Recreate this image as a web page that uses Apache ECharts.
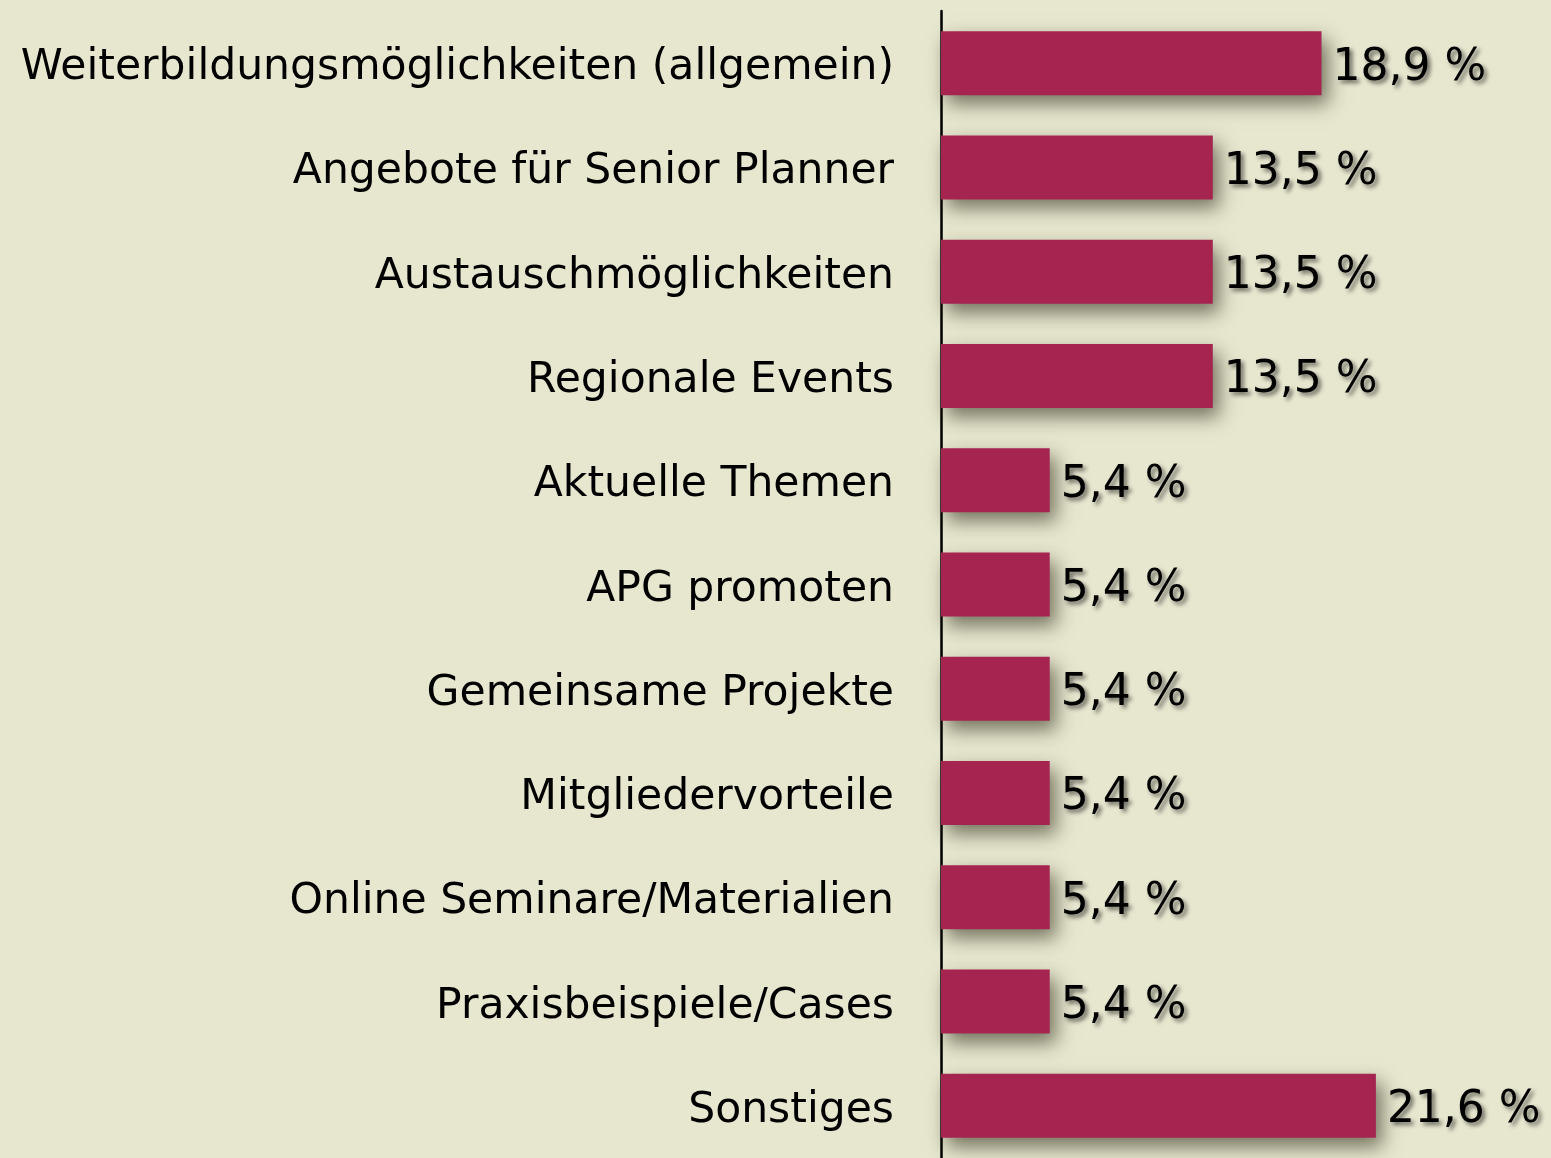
<!DOCTYPE html>
<html>
<head>
<meta charset="utf-8">
<script src="https://cdn.jsdelivr.net/npm/echarts@6/dist/echarts.min.js"></script>
<style>
  html, body { margin: 0; padding: 0; background: #e7e6cf; }
  #chart { width: 1551px; height: 1158px; }
</style>
</head>
<body>
<div id="chart"></div>
<script>
var categories = [
  'Weiterbildungsmöglichkeiten (allgemein)',
  'Angebote für Senior Planner',
  'Austauschmöglichkeiten',
  'Regionale Events',
  'Aktuelle Themen',
  'APG promoten',
  'Gemeinsame Projekte',
  'Mitgliedervorteile',
  'Online Seminare/Materialien',
  'Praxisbeispiele/Cases',
  'Sonstiges'
];
var values = [18.9, 13.5, 13.5, 13.5, 5.4, 5.4, 5.4, 5.4, 5.4, 5.4, 21.6];

var chart = echarts.init(document.getElementById('chart'));

var option = {
  backgroundColor: '#e7e6cf',
  animation: false,
  grid: {
    left: 941,
    right: 6,
    top: 11,
    height: 1151
  },
  xAxis: {
    type: 'value',
    min: 0,
    max: 30,
    show: false
  },
  yAxis: {
    type: 'category',
    inverse: true,
    data: categories,
    axisLine: { show: true, lineStyle: { color: '#000', width: 2.5 } },
    axisTick: { show: false },
    axisLabel: {
      margin: 47,
      formatter: function (v) { return '{c|' + v + '}'; },
      rich: {
        c: {
          color: '#000',
          fontFamily: 'DejaVu Sans',
          fontSize: 42.5,
          padding: [10, 0, 0, 0]
        }
      }
    }
  },
  series: [{
    type: 'bar',
    data: values,
    barWidth: 64,
    itemStyle: {
      color: '#a62450',
      shadowColor: 'rgba(40,40,20,0.6)',
      shadowBlur: 18,
      shadowOffsetX: 6,
      shadowOffsetY: 9
    },
    label: {
      show: true,
      position: 'right',
      distance: 11,
      formatter: function (p) {
        return '{v|' + p.value.toFixed(1).replace('.', ',') + ' %}';
      },
      rich: {
        v: {
          color: '#000',
          fontFamily: 'DejaVu Sans',
          fontSize: 44,
          padding: [10, 0, 0, 0],
          textShadowColor: 'rgba(0,0,0,0.55)',
          textShadowBlur: 4,
          textShadowOffsetX: 3,
          textShadowOffsetY: 3
        }
      }
    }
  }]
};

chart.setOption(option);
</script>
</body>
</html>
